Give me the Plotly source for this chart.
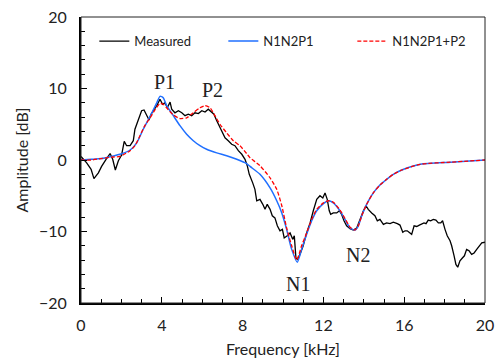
import plotly.graph_objects as go

# ---------------- data ----------------
meas_f = [0.0, 0.28, 0.5, 0.64, 0.86, 1.02, 1.24, 1.44, 1.57, 1.7, 1.85, 2.01, 2.14, 2.26, 2.43, 2.59,
          2.67, 2.84, 3.0, 3.12, 3.25, 3.37, 3.47, 3.61, 3.75, 3.91, 4.04, 4.16, 4.27, 4.41, 4.49, 4.65,
          4.82, 4.99, 5.15, 5.31, 5.48, 5.64, 5.81, 5.98, 6.14, 6.3, 6.47, 6.58, 6.72, 6.88, 7.01, 7.13,
          7.29, 7.46, 7.62, 7.79, 7.96, 8.12, 8.23, 8.33, 8.5, 8.61, 8.7, 8.86, 9.0, 9.11, 9.22, 9.36,
          9.47, 9.6, 9.72, 9.85, 9.97, 10.06, 10.21, 10.35, 10.48, 10.56, 10.64, 10.71, 10.84, 11.0,
          11.17, 11.34, 11.5, 11.67, 11.83, 11.97, 12.08, 12.19, 12.29, 12.36, 12.49, 12.66, 12.79,
          12.9, 13.02, 13.15, 13.32, 13.48, 13.65, 13.81, 13.98, 14.11, 14.22, 14.39, 14.55, 14.67,
          14.8, 14.97, 15.13, 15.3, 15.46, 15.66, 15.79, 15.93, 16.04, 16.15, 16.29, 16.37, 16.49,
          16.62, 16.75, 16.87, 16.98, 17.08, 17.19, 17.31, 17.44, 17.57, 17.69, 17.81, 17.9, 18.02,
          18.13, 18.27, 18.35, 18.47, 18.56, 18.65, 18.76, 18.88, 18.98, 19.09, 19.21, 19.34, 19.46,
          19.59, 19.72, 19.84, 20.0]
meas_db = [0.5, -0.4, -1.3, -2.6, -1.8, -0.9, 0.1, 0.9, 0.1, -1.4, -0.1, 0.7, 2.6, 2.0, 2.0, 2.7,
           4.3, 5.7, 6.9, 7.0, 6.2, 5.6, 6.4, 7.0, 7.6, 8.5, 7.8, 8.0, 7.3, 8.1, 7.1, 6.6,
           6.9, 6.6, 6.2, 6.4, 6.2, 6.6, 6.5, 6.9, 6.7, 7.1, 6.6, 6.4, 5.5, 4.5, 3.8, 3.1,
           2.7, 2.2, 2.0, 1.3, 0.8, 0.1, -0.8, -2.0, -3.2, -4.1, -5.7, -5.5, -6.2, -6.9, -6.2, -6.9,
           -7.8, -8.1, -9.2, -9.9, -9.7, -10.9, -10.6, -10.2, -11.1, -10.6, -13.7, -13.9, -13.2, -12.0,
           -10.2, -8.8, -7.1, -5.5, -5.0, -5.3, -4.6, -5.5, -7.1, -7.6, -7.4, -7.4, -7.1,
           -7.6, -8.5, -9.2, -9.6, -9.8, -9.5, -8.3, -7.1, -6.4, -6.9, -7.4, -7.8, -8.5,
           -8.3, -9.0, -8.8, -8.9, -8.7, -8.9, -9.1, -10.1, -9.9, -9.9, -10.2, -10.4, -9.2,
           -9.3, -9.1, -8.9, -8.8, -8.9, -8.4, -8.5, -8.3, -8.4, -8.8, -8.8, -8.5, -9.7,
           -10.6, -11.3, -12.0, -13.4, -14.6, -15.0, -14.1, -13.7, -13.4, -12.5, -12.7, -13.2, -13.0,
           -12.5, -12.0, -11.6, -11.5]

n1n2p1_f = [0.0, 0.5, 1.0, 1.5, 1.93, 2.43, 2.76, 3.08, 3.42, 3.75, 3.91, 4.07, 4.24, 4.57, 4.9, 5.23,
            5.56, 5.89, 6.22, 6.72, 7.21, 7.71, 8.2, 8.37, 8.86, 9.36, 9.69, 9.94, 10.18, 10.43, 10.71,
            10.92, 11.17, 11.42, 11.67, 12.0, 12.25, 12.49, 12.82, 13.07, 13.32, 13.56, 13.73, 13.9,
            14.14, 14.47, 14.8, 15.13, 15.46, 15.88, 16.8, 18.3, 20.0]
n1n2p1_db = [0.0, 0.1, 0.2, 0.5, 0.8, 1.4, 2.4, 4.3, 6.1, 8.0, 8.9, 8.7, 7.6, 6.2, 4.8, 3.6,
             2.7, 2.0, 1.5, 1.0, 0.6, 0.1, -0.5, -0.9, -2.0, -3.9, -5.7, -7.4, -9.7, -12.5, -14.3,
             -12.5, -10.4, -8.5, -7.1, -6.1, -5.7, -6.0, -7.1, -8.3, -9.5, -9.8, -9.2, -7.8,
             -6.2, -4.6, -3.5, -2.7, -2.0, -1.4, -0.6, -0.3, 0.0]

n1n2p1p2_f = [0.0, 0.5, 1.0, 1.5, 1.93, 2.43, 2.67, 2.92, 3.16, 3.42, 3.66, 3.91, 4.07, 4.27, 4.57, 4.9,
              5.23, 5.56, 5.89, 6.14, 6.39, 6.63, 6.88, 7.21, 7.54, 7.87, 8.2, 8.37, 8.86, 9.36, 9.69,
              9.94, 10.18, 10.43, 10.68, 10.92, 11.17, 11.42, 11.67, 12.0, 12.25, 12.49, 12.82, 13.07,
              13.32, 13.56, 13.73, 13.9, 14.14, 14.47, 14.8, 15.13, 15.46, 15.88, 16.8, 18.3, 20.0]
n1n2p1p2_db = [0.0, 0.0, 0.2, 0.4, 0.5, 1.3, 2.0, 3.4, 4.8, 5.9, 7.0, 7.9, 7.8, 7.2, 6.3, 5.8,
               5.9, 6.6, 7.3, 7.6, 7.3, 6.2, 5.0, 3.8, 2.7, 2.0, 0.9, 0.3, -0.8, -2.5, -4.1,
               -6.4, -9.5, -12.0, -14.0, -12.0, -10.2, -8.3, -6.9, -6.0, -5.7, -5.9, -7.0, -8.2,
               -9.4, -9.8, -9.2, -7.8, -6.2, -4.6, -3.5, -2.7, -2.0, -1.4, -0.6, -0.3, 0.0]

labels = ["P1", "P2", "N1", "N2"]
label_f = [4.13, 6.49, 10.75, 13.7]
label_db = [10.9, 9.8, -17.4, -13.3]

x_ticks = [0, 4, 8, 12, 16, 20]
y_ticks = [-20, -10, 0, 10, 20]

# ---------------- figure ----------------
fig = go.Figure()
fig.add_trace(go.Scatter(x=meas_f, y=meas_db, mode="lines", name="Measured",
                         line=dict(color="black", width=1.3)))
fig.add_trace(go.Scatter(x=n1n2p1_f, y=n1n2p1_db, mode="lines", name="N1N2P1",
                         line=dict(color="#1f6fff", width=1.5, shape="spline", smoothing=0.6)))
fig.add_trace(go.Scatter(x=n1n2p1p2_f, y=n1n2p1p2_db, mode="lines", name="N1N2P1+P2",
                         line=dict(color="#ff0000", width=1.3, dash="4px,2px",
                                   shape="spline", smoothing=0.6)))

for t, fx, fy in zip(labels, label_f, label_db):
    fig.add_annotation(x=fx, y=fy, text=t, showarrow=False,
                       font=dict(family="Liberation Serif", size=20, color="#222"))

fig.update_layout(
    width=497, height=360,
    margin=dict(l=81, r=12, t=17, b=57, autoexpand=False),
    plot_bgcolor="white", paper_bgcolor="white",
    font=dict(family="Lato", size=16, color="#222"),
    showlegend=True,
    legend=dict(orientation="h", x=0.033, y=0.968, xanchor="left", yanchor="top",
                bgcolor="rgba(0,0,0,0)", font=dict(size=13, family="Lato", color="#222"),
                entrywidth=84, tracegroupgap=0),
    shapes=[dict(type="rect", xref="paper", yref="paper", x0=0, y0=0, x1=1, y1=1,
                 line=dict(color="#222", width=1), layer="above")],
)
fig.update_xaxes(range=[0, 20], tickvals=x_ticks, ticks="inside", ticklen=6, tickwidth=1.3,
                 tickcolor="black", showline=True, linecolor="black", linewidth=2,
                 showgrid=False, zeroline=False, automargin=False, ticklabeloverflow="allow",
                 ticklabelstandoff=7,
                 minor=dict(dtick=1, ticks="inside", ticklen=4, tickcolor="black", showgrid=False),
                 title=dict(text="Frequency [kHz]", font=dict(size=16), standoff=11),
                 tickfont=dict(size=16))
fig.update_yaxes(range=[-20, 20], tickvals=y_ticks, ticks="inside", ticklen=6, tickwidth=1.3,
                 tickcolor="black", showline=True, linecolor="black", linewidth=2,
                 showgrid=False, zeroline=False, automargin=False, ticklabeloverflow="allow",
                 ticklabelstandoff=9,
                 minor=dict(dtick=2, ticks="inside", ticklen=4, tickcolor="black", showgrid=False),
                 title=dict(text="Amplitude [dB]", font=dict(size=16), standoff=6),
                 tickfont=dict(size=16))

fig.write_html("out.html", config={"displayModeBar": False},
               post_script="document.body.style.margin='0';document.body.style.overflow='hidden';")
